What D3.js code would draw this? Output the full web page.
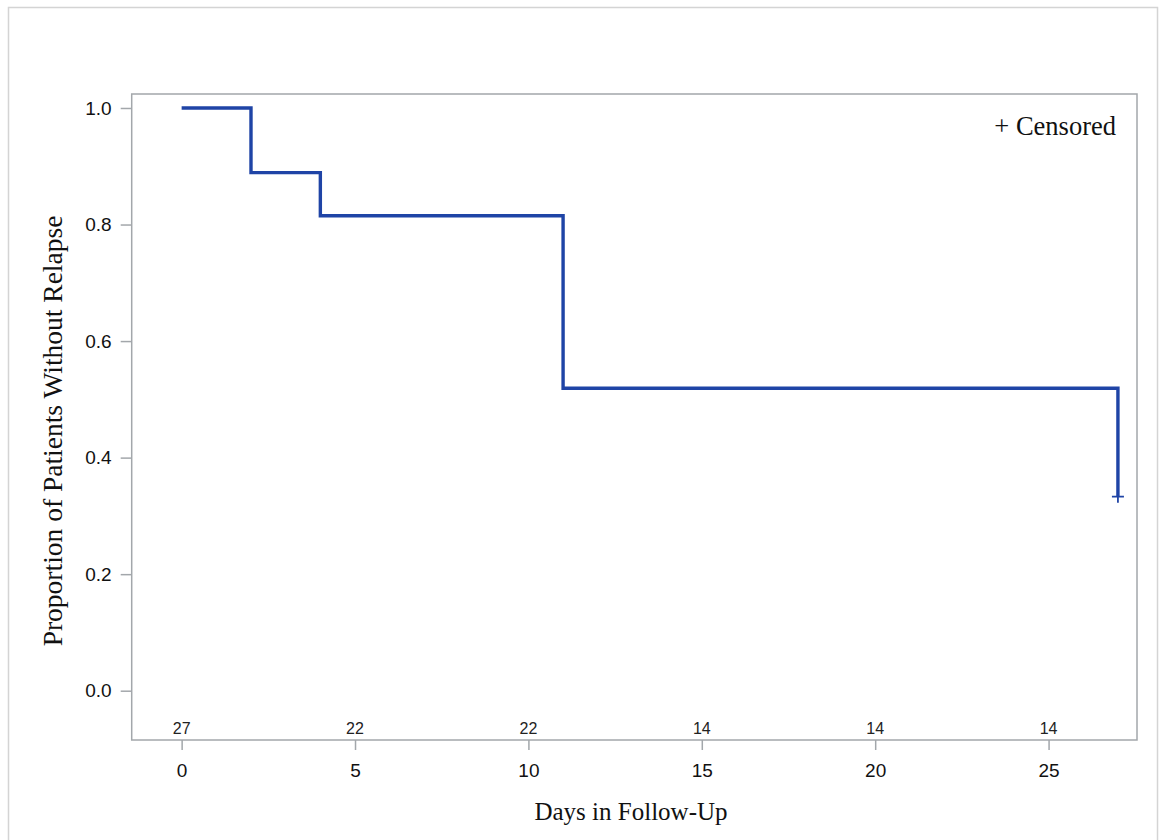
<!DOCTYPE html>
<html><head><meta charset="utf-8">
<script src="https://cdn.jsdelivr.net/npm/d3@7"></script>
<style>body{margin:0;background:#fff}svg{display:block}</style>
</head><body>
<script>
const stepTimes = [0, 2, 4, 11, 27];
const stepSurvival = [1.0, 0.889, 0.815, 0.519, 0.333];
const censorTimes = [27];
const censorSurvival = [0.333];
const xTicks = [0, 5, 10, 15, 20, 25];
const yTicks = [0.0, 0.2, 0.4, 0.6, 0.8, 1.0];
const atRiskTimes = [0, 5, 10, 15, 20, 25];
const atRiskCounts = [27, 22, 22, 14, 14, 14];

const W = 1159, H = 840;
const svg = d3.select("body").append("svg").attr("width", W).attr("height", H);

svg.append("rect").attr("x", 8.5).attr("y", 7.5).attr("width", 1149).attr("height", 840)
  .attr("fill", "none").attr("stroke", "#d4d4d4").attr("stroke-width", 1.5);

const L = 131.7, R = 1137, T = 94, B = 740;
const x = d3.scaleLinear().domain([-1.44, 27.55]).range([L, R]);
const y = d3.scaleLinear().domain([-0.0846, 1.024]).range([B, T]);

const frameColor = "#a3a7ab";
const sans = "Liberation Sans, Arial, sans-serif";
const serif = "Liberation Serif, Times New Roman, serif";

svg.append("rect").attr("x", L).attr("y", T).attr("width", R - L).attr("height", B - T)
  .attr("fill", "none").attr("stroke", frameColor).attr("stroke-width", 1.5);

const xAxis = svg.append("g").attr("transform", `translate(0,${B})`)
  .call(d3.axisBottom(x).tickValues(xTicks).tickSize(10).tickPadding(13.5).tickFormat(d3.format("d")));
xAxis.attr("font-size", null).attr("font-family", null);
xAxis.select(".domain").remove();
xAxis.selectAll("line").attr("stroke", frameColor).attr("stroke-width", 1.5);
xAxis.selectAll("text").attr("font-family", sans).attr("font-size", 19).attr("fill", "#111");

const yAxis = svg.append("g").attr("transform", `translate(${L},0)`)
  .call(d3.axisLeft(y).tickValues(yTicks).tickSize(11).tickPadding(9).tickFormat(d3.format(".1f")));
yAxis.attr("font-size", null).attr("font-family", null);
yAxis.select(".domain").remove();
yAxis.selectAll("line").attr("stroke", frameColor).attr("stroke-width", 1.5);
yAxis.selectAll("text").attr("font-family", sans).attr("font-size", 19).attr("fill", "#111");

// step line
const pts = [];
for (let i = 0; i < stepTimes.length; i++) {
  if (i > 0) pts.push([stepTimes[i], stepSurvival[i - 1]]);
  pts.push([stepTimes[i], stepSurvival[i]]);
}
const line = d3.line().x(d => x(d[0])).y(d => y(d[1]));
svg.append("path").attr("d", line(pts)).attr("fill", "none")
  .attr("stroke", "#1f44a6").attr("stroke-width", 3.4).attr("stroke-linejoin", "miter");

// censor marks
censorTimes.forEach((t, i) => {
  const cx = x(t), cy = y(censorSurvival[i]);
  svg.append("path").attr("d", `M${cx - 6},${cy}H${cx + 6}M${cx},${cy - 6}V${cy + 6}`)
    .attr("stroke", "#1f44a6").attr("stroke-width", 1.8);
});

// at risk
svg.append("g").selectAll("text").data(atRiskTimes).join("text")
  .attr("x", d => x(d)).attr("y", 733.5).attr("text-anchor", "middle")
  .attr("font-family", sans).attr("font-size", 16).attr("fill", "#222")
  .text((d, i) => atRiskCounts[i]);

// legend
svg.append("text").attr("x", 1116).attr("y", 135).attr("text-anchor", "end")
  .attr("font-family", serif).attr("font-size", 26.5).attr("fill", "#111")
  .text("+ Censored");

// axis labels
svg.append("text").attr("x", 631).attr("y", 820).attr("text-anchor", "middle")
  .attr("font-family", serif).attr("font-size", 25).attr("fill", "#111")
  .text("Days in Follow-Up");
svg.append("text").attr("transform", "translate(62,431) rotate(-90)").attr("text-anchor", "middle")
  .attr("font-family", serif).attr("font-size", 27.5).attr("fill", "#111")
  .text("Proportion of Patients Without Relapse");
</script>
</body></html>
